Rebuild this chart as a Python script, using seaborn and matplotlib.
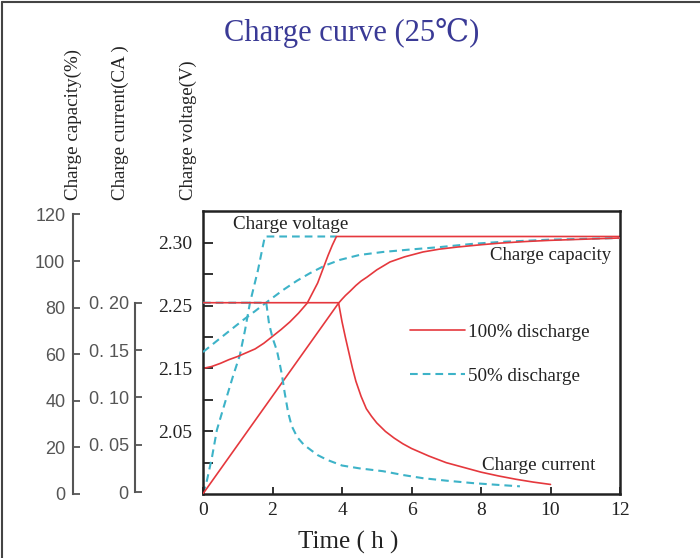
import numpy as np
import matplotlib
matplotlib.use("Agg")
import matplotlib.pyplot as plt
import seaborn as sns
from matplotlib.lines import Line2D
from matplotlib.ticker import FixedLocator, FixedFormatter, NullFormatter

# ---- data ----
# charge voltage (V)
T_V100 = [0, 0.25, 0.5, 0.75, 1.0, 1.25, 1.5, 1.75, 2.0, 2.25, 2.5, 2.75, 3.0, 3.15, 3.3,
          3.45, 3.6, 3.72, 3.84, 12]
V100 = [2.150, 2.153, 2.158, 2.164, 2.169, 2.175, 2.181, 2.190, 2.201, 2.212, 2.224, 2.238,
        2.252, 2.260, 2.268, 2.279, 2.290, 2.298, 2.305, 2.305]
T_V50 = [0, 0.115, 0.26, 0.40, 0.63, 0.86, 1.06, 1.21, 1.35, 1.58, 1.78, 3.84]
V50 = [1.950, 1.972, 2.009, 2.052, 2.095, 2.137, 2.171, 2.211, 2.252, 2.278, 2.305, 2.305]

# charge capacity (%)
T_C100 = [0, 3.9, 4.0, 4.1, 4.23, 4.4, 4.55, 4.72, 5.0, 5.38, 5.8, 6.33, 6.8, 7.31, 8.0,
          8.55, 9.3, 10, 11, 12]
C100 = [0, 81.9, 83.6, 85.2, 87.0, 89.5, 91.4, 93.1, 96.2, 99.6, 101.8, 103.9, 105.1, 106.0,
        107.0, 107.7, 108.4, 108.9, 109.4, 109.9]
T_C50 = [0, 0.5, 1.15, 1.5, 1.84, 2.3, 2.7, 3.08, 3.5, 3.94, 4.5, 5.18, 6.0, 6.82, 7.77,
         8.55, 10, 12]
C50 = [60.9, 66.9, 74.6, 78.5, 82.4, 87.5, 91.5, 94.8, 98.0, 100.5, 102.6, 103.9, 105.0,
       106.0, 107.4, 108.2, 109.2, 109.9]

# charge current (CA)
T_I100 = [0, 3.9, 3.95, 4.0, 4.1, 4.2, 4.3, 4.4, 4.55, 4.7, 4.85, 5.0, 5.25, 5.5, 5.75, 6.0,
          6.5, 7.0, 7.5, 8.0, 8.5, 9.0, 9.5, 10.0]
I100 = [0.20, 0.20, 0.19, 0.18, 0.163, 0.147, 0.131, 0.117, 0.101, 0.088, 0.080, 0.073, 0.064,
        0.057, 0.051, 0.046, 0.038, 0.031, 0.026, 0.021, 0.017, 0.0135, 0.0105, 0.008]
T_I50 = [0, 1.82, 1.9, 2.0, 2.13, 2.2, 2.27, 2.35, 2.45, 2.55, 2.71, 2.9, 3.08, 3.3, 3.57,
         4.0, 4.5, 5.18, 5.75, 6.33, 7.0, 7.77, 8.5, 9.12]
I50 = [0.20, 0.20, 0.178, 0.163, 0.149, 0.137, 0.124, 0.105, 0.084, 0.070, 0.058, 0.050, 0.045,
       0.039, 0.034, 0.028, 0.025, 0.022, 0.018, 0.0146, 0.012, 0.0094, 0.0075, 0.006]

X_TICKS = [0, 2, 4, 6, 8, 10, 12]
CAP_TICKS = [0, 20, 40, 60, 80, 100, 120]
CUR_TICKS = [0, 0.05, 0.10, 0.15, 0.20]
CUR_LABELS = ["0", "0. 05", "0. 10", "0. 15", "0. 20"]
VOLT_TICKS = [2.05, 2.15, 2.25, 2.30]
VOLT_LABELS = ["2.05", "2.15", "2.25", "2.30"]
VOLT_MINOR = [2.00, 2.10, 2.20, 2.275]
# the printed voltage axis is not linear: equally spaced ticks carry these values
V_KNOTS = [1.95, 2.00, 2.05, 2.10, 2.15, 2.20, 2.25, 2.275, 2.30, 2.325, 2.35]
K_KNOTS = list(range(len(V_KNOTS)))

RED = "#e5383d"
CYAN = "#3db3c8"
INK = "#222222"
GREY = "#555555"

sns.set_theme(style="white")
plt.rcParams["font.family"] = ["Liberation Serif", "DejaVu Serif", "DejaVu Sans"]
SANS = ["Liberation Sans", "DejaVu Sans"]


def v_fwd(v):
    return np.interp(v, V_KNOTS, K_KNOTS)


def v_inv(k):
    return np.interp(k, K_KNOTS, V_KNOTS)


fig = plt.figure(figsize=(7, 5.58), dpi=100)
ax = fig.add_axes([203 / 700, 64 / 558, 417 / 700, 283 / 558])
ax_cap = ax.twinx()
ax_cur = ax.twinx()

dash = (0, (3.7, 2.4))
LW_RED = 1.2
LW_CY = 1.5

# voltage on the main axes
sns.lineplot(x=T_V50, y=V50, ax=ax, color=CYAN, lw=LW_CY, linestyle=dash, estimator=None, sort=False)
sns.lineplot(x=T_V100, y=V100, ax=ax, color=RED, lw=LW_RED, estimator=None, sort=False)
# capacity
sns.lineplot(x=T_C50, y=C50, ax=ax_cap, color=CYAN, lw=LW_CY, linestyle=dash, estimator=None, sort=False)
sns.lineplot(x=T_C100, y=C100, ax=ax_cap, color=RED, lw=LW_RED, estimator=None, sort=False)
# current
sns.lineplot(x=T_I50, y=I50, ax=ax_cur, color=CYAN, lw=LW_CY, linestyle=dash, estimator=None, sort=False)
sns.lineplot(x=T_I100, y=I100, ax=ax_cur, color=RED, lw=LW_RED, estimator=None, sort=False)

ax.set_xlim(0, 12)
ax.set_yscale("function", functions=(v_fwd, v_inv))
ax.set_ylim(1.95, 2.3253)
ax.set_xticks(X_TICKS)
ax.set_xticklabels([str(t) for t in X_TICKS])
ax.set_yticks(VOLT_TICKS)
ax.set_yticklabels(VOLT_LABELS)
ax.yaxis.set_minor_locator(FixedLocator(VOLT_MINOR))
ax.yaxis.set_minor_formatter(NullFormatter())
ax.tick_params(axis="x", direction="in", length=5, width=1.3, color=INK, labelsize=14,
               labelcolor=INK, pad=6, bottom=True)
ax.tick_params(axis="y", which="both", direction="in", length=7, width=1.3, color=INK,
               labelsize=14, labelcolor=INK, pad=8, left=True)
ax.set_xlabel("")
ax.set_ylabel("")
for s in ax.spines.values():
    s.set_visible(True)
    s.set_color(INK)
    s.set_linewidth(1.8)

ax_cap.set_ylim(-0.1, 121.5)
ax_cur.set_ylim(-0.0021, 0.2969)

for tw, off, lo, hi, pad in [(ax_cap, 93.6, 0, 120, 5.5), (ax_cur, 49, 0, 0.2, 4.5)]:
    for s in ["right", "top", "bottom"]:
        tw.spines[s].set_visible(False)
    tw.spines["left"].set_visible(True)
    tw.spines["left"].set_position(("outward", off))
    tw.spines["left"].set_bounds(lo, hi)
    tw.spines["left"].set_color(GREY)
    tw.spines["left"].set_linewidth(1.5)
    tw.yaxis.set_ticks_position("left")
    tw.yaxis.set_label_position("left")
    tw.tick_params(axis="y", direction="in", length=5, width=1.3, color=GREY,
                   labelsize=13, labelcolor=GREY, pad=pad, left=True, right=False)
    tw.set_ylabel("")
    tw.set_xlabel("")
    tw.grid(False)

ax_cap.yaxis.set_major_locator(FixedLocator(CAP_TICKS))
ax_cap.yaxis.set_major_formatter(FixedFormatter([str(c) for c in CAP_TICKS]))
ax_cur.yaxis.set_major_locator(FixedLocator(CUR_TICKS))
ax_cur.yaxis.set_major_formatter(FixedFormatter(CUR_LABELS))
for tw in (ax_cap, ax_cur):
    for lab in tw.get_yticklabels():
        lab.set_fontfamily(SANS)

# curve names inside the plot
ax.text(0.072, 0.954, "Charge voltage", transform=ax.transAxes, fontsize=13.7, color=INK, va="center")
ax.text(0.688, 0.841, "Charge capacity", transform=ax.transAxes, fontsize=13.5, color=INK, va="center")
ax.text(0.669, 0.099, "Charge current", transform=ax.transAxes, fontsize=13.7, color=INK, va="center")

handles = [Line2D([], [], color=RED, lw=LW_RED),
           Line2D([], [], color=CYAN, lw=LW_CY, linestyle=dash)]
ax_cur.legend(handles, ["100% discharge", "50% discharge"], loc="upper left",
              bbox_to_anchor=(0.496, 0.603), frameon=False, fontsize=13.7,
              handlelength=2.9, handletextpad=0.15, labelspacing=1.4,
              borderpad=0, borderaxespad=0, labelcolor=INK)

# rotated axis names above the three scales
fig.text(73 / 700, 0.642, "Charge capacity(%)", rotation=90, ha="center", va="bottom", fontsize=13.7, color=INK)
fig.text(120 / 700, 0.642, "Charge current(CA )", rotation=90, ha="center", va="bottom", fontsize=13.6, color=INK)
fig.text(188 / 700, 0.642, "Charge voltage(V)", rotation=90, ha="center", va="bottom", fontsize=13.5, color=INK)

fig.text(0.503, 0.941, "Charge curve (25℃)", ha="center", va="center", fontsize=22, color="#3a3a96")
fig.text(0.497, 0.027, "Time ( h )", ha="center", va="center", fontsize=18, color=INK)

# frame of the original screenshot (left and top edges)
fig.add_artist(Line2D([0.003, 0.003], [0, 0.997], transform=fig.transFigure, color="#444444", lw=1.5))
fig.add_artist(Line2D([0.003, 1], [0.997, 0.997], transform=fig.transFigure, color="#444444", lw=1.5))

fig.savefig("out.png", dpi=100)
